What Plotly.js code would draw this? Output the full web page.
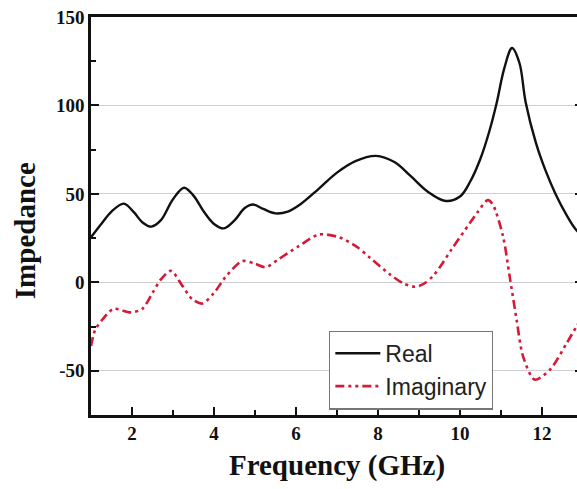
<!DOCTYPE html>
<html>
<head>
<meta charset="utf-8">
<script src="https://cdn.plot.ly/plotly-3.0.1.min.js"></script>
<style>
html, body { margin: 0; padding: 0; background: #ffffff; overflow: hidden; }
#chart { width: 590px; height: 489px; }
</style>
</head>
<body>
<div id="chart"></div>
<script>
// Real part of impedance
const realFreq = [1.0, 1.25, 1.5, 1.8, 2.05, 2.25, 2.47, 2.7, 3.0, 3.27, 3.5, 3.75, 4.0, 4.24, 4.5, 4.75, 4.95, 5.2, 5.5, 5.8, 6.1, 6.56, 7.0, 7.45, 7.95, 8.4, 8.8, 9.2, 9.65, 10.0, 10.25, 10.5, 10.71, 10.89, 11.08, 11.27, 11.45, 11.6, 11.85, 12.09, 12.33, 12.6, 12.82, 13.0];
const realVal  = [25.5, 33, 40, 44.5, 39.5, 34, 31.5, 35, 47, 53.5, 49, 40, 33, 30.5, 35, 42, 44, 41.5, 39, 40, 44, 53, 62, 68.5, 71.5, 68, 60, 51.5, 46, 48.5, 57, 70, 85, 101, 121, 132.5, 124, 102, 79, 63, 50, 38, 30, 26];

// Imaginary part of impedance
const imagFreq = [1.0, 1.1, 1.28, 1.55, 1.97, 2.25, 2.5, 2.7, 2.95, 3.23, 3.47, 3.71, 4.0, 4.28, 4.69, 5.0, 5.26, 5.57, 6.07, 6.56, 7.05, 7.46, 7.8, 8.29, 8.61, 8.9, 9.1, 9.34, 9.55, 9.79, 10.24, 10.44, 10.68, 10.8, 11.05, 11.21, 11.38, 11.54, 11.82, 12.19, 12.6, 12.84, 13.0];
const imagVal  = [-36, -27, -21, -15, -17, -15, -6, 1.5, 6.5, -2, -9.5, -12, -6, 3, 12, 10.5, 8.5, 13, 20.5, 27, 25.5, 20.5, 14, 4.5, -0.5, -2.5, -1, 3.5, 10, 18.5, 33.5, 40, 46.5, 44, 26, 3.5, -21, -42, -55, -49.5, -34.5, -25, -19];

const seriesNames = ['Real', 'Imaginary'];
const xTickVals = [2, 4, 6, 8, 10, 12];
const yTickVals = [-50, 0, 50, 100, 150];

const serif = 'Liberation Serif, Times New Roman, serif';

const traces = [
  {
    x: realFreq, y: realVal, name: seriesNames[0], type: 'scatter', mode: 'lines',
    line: { color: '#111111', width: 2.4, shape: 'spline', smoothing: 1.0 }
  },
  {
    x: imagFreq, y: imagVal, name: seriesNames[1], type: 'scatter', mode: 'lines',
    line: { color: '#d41a36', width: 2.6, shape: 'spline', smoothing: 0.8, dash: '9px,4px,3px,4px,3px,4px' }
  }
];

const layout = {
  width: 590, height: 489,
  margin: { l: 91, r: 7, t: 17, b: 74 },
  paper_bgcolor: '#ffffff', plot_bgcolor: '#ffffff',
  showlegend: true,
  xaxis: {
    range: [1, 13],
    tickvals: xTickVals, ticktext: xTickVals.map(String),
    ticks: 'inside', ticklen: 8, tickwidth: 2, tickcolor: '#111111',
    minor: { dtick: 1, tick0: 1, ticks: 'inside', ticklen: 5, tickwidth: 2, tickcolor: '#111111', showgrid: false },
    showline: true, linecolor: '#111111', linewidth: 2.6, mirror: true,
    showgrid: false, zeroline: false,
    tickfont: { family: serif, size: 19, color: '#111111', weight: 'bold' },
    title: { text: '<b>Frequency (GHz)</b>', font: { family: serif, size: 29, color: '#111111' }, standoff: 12 }
  },
  yaxis: {
    range: [-75, 150],
    tickvals: yTickVals, ticktext: yTickVals.map(String),
    ticks: 'inside', ticklen: 8, tickwidth: 2, tickcolor: '#111111',
    minor: { dtick: 25, tick0: 0, ticks: 'inside', ticklen: 5, tickwidth: 2, tickcolor: '#111111', showgrid: false },
    showline: true, linecolor: '#111111', linewidth: 2.6, mirror: 'ticks',
    showgrid: true, gridcolor: '#cfcfcf', gridwidth: 1.2, zeroline: false,
    tickfont: { family: serif, size: 19, color: '#111111', weight: 'bold' },
    title: { text: '' }
  },
  annotations: [
    {
      text: '<b>Impedance</b>', textangle: -90,
      xref: 'paper', yref: 'paper', x: -0.134, y: 0.462,
      xanchor: 'center', yanchor: 'middle', showarrow: false,
      font: { family: serif, size: 29, color: '#111111' }
    }
  ],
  legend: {
    x: 0.484, y: 0.212, xanchor: 'left', yanchor: 'top',
    bgcolor: '#ffffff', bordercolor: '#777777', borderwidth: 1.2,
    font: { family: 'Liberation Sans, Arial, sans-serif', size: 23, color: '#222222' },
    itemwidth: 45, tracegroupgap: 0
  }
};

Plotly.newPlot('chart', traces, layout, { displayModeBar: false, staticPlot: true });
</script>
</body>
</html>
